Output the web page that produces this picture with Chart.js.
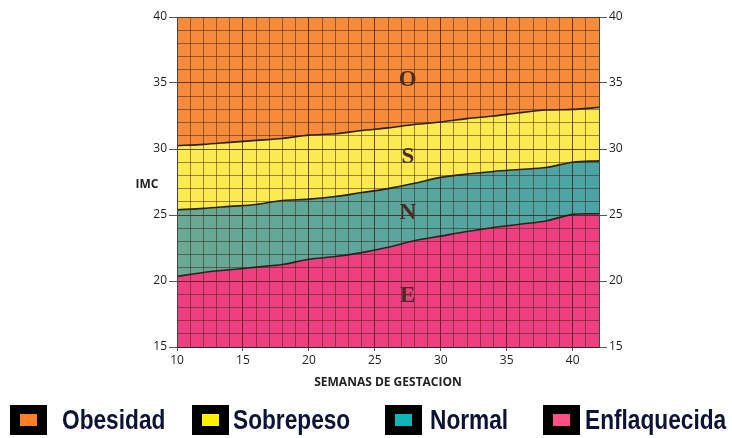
<!DOCTYPE html>
<html>
<head>
<meta charset="utf-8">
<script src="https://cdn.jsdelivr.net/npm/chart.js@4.4.1/dist/chart.umd.min.js"></script>
<style>
  html, body { margin: 0; padding: 0; background: #fff; }
  #wrap { position: relative; width: 732px; height: 438px; overflow: hidden; }
  #wrap canvas { position: absolute; left: 0; top: 0; }
  .box { position: absolute; top: 405px; width: 37px; height: 30px; background: #000; }
  .box i { position: absolute; left: 10px; top: 9px; width: 17px; height: 12px; }
  .txt { position: absolute; top: 404px; line-height: 30px; font: bold 28px "Liberation Sans", sans-serif; color: #0d1333; white-space: nowrap; transform: scaleX(0.81); transform-origin: 0 50%; }
</style>
</head>
<body>
<div id="wrap">
  <canvas id="imcChart" width="732" height="438"></canvas>
  <div class="box" style="left:10px"><i style="background:#ff7f27"></i></div>
  <div class="txt" style="left:62px">Obesidad</div>
  <div class="box" style="left:192px"><i style="background:#fff200"></i></div>
  <div class="txt" style="left:233px">Sobrepeso</div>
  <div class="box" style="left:385px"><i style="background:#10b5b8"></i></div>
  <div class="txt" style="left:430px">Normal</div>
  <div class="box" style="left:543px"><i style="background:#ff4f87"></i></div>
  <div class="txt" style="left:585px">Enflaquecida</div>
</div>
<script>
// semanas de gestacion
const semanas = [10, 12, 14, 16, 18, 20, 22, 24, 26, 28, 30, 32, 34, 36, 38, 40, 42];
// limite inferior de cada zona (IMC)
const limObesidad  = [30.25, 30.35, 30.5, 30.65, 30.8, 31.05, 31.15, 31.4, 31.6, 31.85, 32.05, 32.3, 32.5, 32.75, 32.95, 33.0, 33.15];
const limSobrepeso = [25.4, 25.5, 25.65, 25.8, 26.1, 26.2, 26.4, 26.7, 27.0, 27.4, 27.85, 28.1, 28.3, 28.45, 28.6, 29.0, 29.1];
const limNormal    = [20.35, 20.65, 20.85, 21.05, 21.25, 21.65, 21.85, 22.15, 22.55, 23.05, 23.4, 23.75, 24.05, 24.3, 24.55, 25.05, 25.1];
const ticksY = [15, 20, 25, 30, 35, 40];
const ticksX = [10, 15, 20, 25, 30, 35, 40];

const letras = [
  { t: 'O', x: 27.5, y: 35.2 },
  { t: 'S', x: 27.5, y: 29.4 },
  { t: 'N', x: 27.5, y: 25.15 },
  { t: 'E', x: 27.5, y: 18.85 }
];

function pts(arr) {
  return semanas.map((s, i) => ({ x: s, y: arr[i] }));
}

function tealFill(context) {
  const chart = context.chart;
  const area = chart.chartArea;
  if (!area) return '#5aa79d';
  const g = chart.ctx.createLinearGradient(area.left, 0, area.right, 0);
  g.addColorStop(0, '#6aa993');
  g.addColorStop(1, '#4aa4a6');
  return g;
}

const lineColor = '#2b2320';
const gridColor = ctx => ctx.tick && ctx.tick.value % 5 === 0 ? 'rgba(55,25,15,0.75)' : 'rgba(55,25,15,0.5)';
const tickMark = ctx => ctx.tick && ctx.tick.value % 5 === 0 ? '#555' : 'rgba(0,0,0,0)';
const tickFont = { family: '"Open Sans", sans-serif', size: 12 };

const textoPlugin = {
  id: 'textos',
  afterDraw(chart) {
    const { ctx, scales: { x, y } } = chart;
    ctx.save();
    ctx.fillStyle = '#4a2c22';
    ctx.font = 'bold 23px "Liberation Serif", serif';
    ctx.textAlign = 'center';
    ctx.textBaseline = 'middle';
    letras.forEach(l => {
      ctx.fillText(l.t, x.getPixelForValue(l.x), y.getPixelForValue(l.y));
    });
    ctx.fillStyle = '#222';
    ctx.font = 'bold 12px "Open Sans", sans-serif';
    ctx.fillText('IMC', 147, 185);
    ctx.restore();
  }
};

const config = {
  type: 'line',
  data: {
    datasets: [
      {
        label: 'Enflaquecida',
        data: pts(limNormal),
        backgroundColor: '#ee4080',
        borderColor: lineColor,
        fill: 'start'
      },
      {
        label: 'Normal',
        data: pts(limSobrepeso),
        backgroundColor: tealFill,
        borderColor: lineColor,
        fill: '-1'
      },
      {
        label: 'Sobrepeso',
        data: pts(limObesidad),
        backgroundColor: '#fbeb50',
        borderColor: lineColor,
        fill: '-1'
      },
      {
        label: 'Obesidad',
        data: pts(limObesidad),
        backgroundColor: '#f68b3c',
        borderColor: lineColor,
        borderWidth: 0,
        fill: 'end'
      }
    ]
  },
  options: {
    responsive: false,
    animation: false,
    layout: { padding: { top: 17, left: 0, right: 0, bottom: 0 } },
    elements: {
      line: { borderWidth: 1.6, tension: 0.3 },
      point: { radius: 0 }
    },
    plugins: {
      legend: { display: false },
      tooltip: { enabled: false },
      title: { display: false }
    },
    scales: {
      x: {
        type: 'linear',
        min: 10,
        max: 42,
        z: 1,
        afterFit: s => { s.height = 91; },
        ticks: {
          stepSize: 1,
          autoSkip: false,
          maxRotation: 0,
          padding: 2,
          color: '#222',
          font: tickFont,
          callback: v => ticksX.includes(v) ? String(v) : ''
        },
        grid: { z: 1, color: gridColor, tickColor: tickMark, tickLength: 4, lineWidth: 1 },
        border: { z: 1, color: '#444' },
        title: {
          display: true,
          text: 'SEMANAS DE GESTACION',
          color: '#222',
          font: { family: '"Open Sans", sans-serif', size: 12, weight: 'bold' },
          padding: { top: 0, bottom: 48 }
        }
      },
      y: {
        position: 'left',
        min: 15,
        max: 40,
        z: 1,
        afterFit: s => { s.width = 177; },
        ticks: {
          stepSize: 1,
          autoSkip: false,
          padding: 2,
          color: '#222',
          font: tickFont,
          callback: v => ticksY.includes(v) ? String(v) : ''
        },
        grid: { z: 1, color: gridColor, tickColor: tickMark, tickLength: 8, lineWidth: 1 },
        border: { z: 1, color: '#444' }
      },
      y2: {
        position: 'right',
        min: 15,
        max: 40,
        z: 1,
        afterFit: s => { s.width = 133; },
        ticks: {
          stepSize: 1,
          autoSkip: false,
          padding: 2,
          color: '#222',
          font: tickFont,
          callback: v => ticksY.includes(v) ? String(v) : ''
        },
        grid: { z: 1, drawOnChartArea: false, tickColor: tickMark, tickLength: 8 },
        border: { z: 1, color: '#444' }
      }
    }
  },
  plugins: [textoPlugin]
};

const imcChart = new Chart(document.getElementById('imcChart'), config);
</script>
</body>
</html>
